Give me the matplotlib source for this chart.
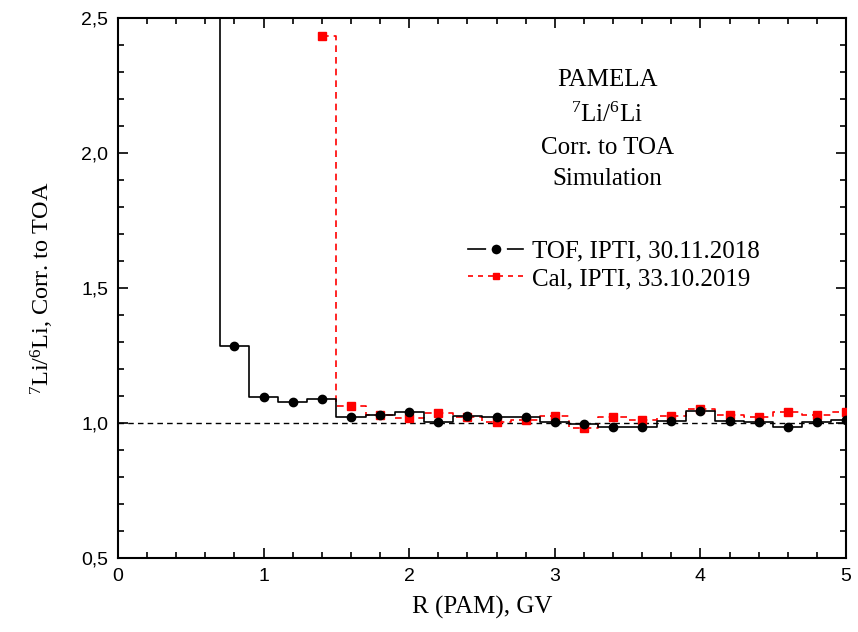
import matplotlib
matplotlib.use('Agg')
import matplotlib.pyplot as plt
from matplotlib.ticker import MultipleLocator, FuncFormatter

# fonts: serif for text, sans for tick numbers
plt.rcParams['font.family'] = 'Liberation Serif'
plt.rcParams['mathtext.fontset'] = 'custom'
plt.rcParams['mathtext.rm'] = 'Liberation Serif'
plt.rcParams['mathtext.it'] = 'Liberation Serif:italic'

# TOF, IPTI, 30.11.2018 (first bin is off scale)
r_tof = [0.6, 0.8, 1.0, 1.2, 1.4, 1.6, 1.8, 2.0, 2.2, 2.4, 2.6, 2.8, 3.0,
         3.2, 3.4, 3.6, 3.8, 4.0, 4.2, 4.4, 4.6, 4.8, 5.0]
v_tof = [3.0, 1.285, 1.097, 1.078, 1.088, 1.023, 1.031, 1.039, 1.003, 1.025,
         1.023, 1.021, 1.005, 0.996, 0.985, 0.986, 1.008, 1.045, 1.006, 1.005,
         0.984, 1.004, 1.012]

# Cal, IPTI, 33.10.2019
r_cal = [1.4, 1.6, 1.8, 2.0, 2.2, 2.4, 2.6, 2.8, 3.0, 3.2, 3.4, 3.6, 3.8,
         4.0, 4.2, 4.4, 4.6, 4.8, 5.0]
v_cal = [2.433, 1.062, 1.028, 1.018, 1.036, 1.024, 1.002, 1.012, 1.026, 0.982,
         1.022, 1.012, 1.027, 1.051, 1.029, 1.024, 1.041, 1.029, 1.041]

labels = ['TOF, IPTI, 30.11.2018', 'Cal, IPTI, 33.10.2019']
info = ['PAMELA', '$^{7}$Li/$^{6}$Li', 'Corr. to TOA', 'Simulation']

fig = plt.figure(figsize=(8.58, 6.32), dpi=100)
ax = fig.add_axes([118/858, 1-558/632, (846-118)/858, (558-18)/632])

ax.axhline(1.0, color='black', lw=1.0, ls=(0, (4, 3)), zorder=1)

ax.plot(r_tof, v_tof, drawstyle='steps-mid', color='black', lw=1.2, zorder=3)
ax.plot(r_tof, v_tof, ls='none', marker='o', ms=6, color='black', zorder=4)
ax.plot(r_cal, v_cal, drawstyle='steps-mid', color='red', lw=1.2,
        ls=(0, (4, 3)), zorder=2)
ax.plot(r_cal, v_cal, ls='none', marker='s', ms=5.5, color='red', zorder=3)

# legend handles (white ring around the dot gives the gap in the line)
h1, = ax.plot([], [], color='black', lw=1.2, marker='o', ms=11,
              mfc='black', mec='white', mew=4)
h2, = ax.plot([], [], color='red', lw=1.2, ls=(0, (3, 3)), marker='s', ms=5)
ax.legend([h1, h2], labels, loc='upper left', bbox_to_anchor=(0.464, 0.612),
          frameon=False, fontsize=18, handlelength=2.2, handletextpad=0.35,
          labelspacing=0.2, borderpad=0)

for txt, yb in zip(info, [0.874, 0.807, 0.748, 0.691]):
    ax.text(0.672, yb, txt, transform=ax.transAxes, ha='center',
            va='baseline', fontsize=18)

ax.set_xlim(0, 5)
ax.set_ylim(0.5, 2.5)
ax.xaxis.set_major_locator(MultipleLocator(1))
ax.xaxis.set_minor_locator(MultipleLocator(0.2))
ax.yaxis.set_major_locator(MultipleLocator(0.5))
ax.yaxis.set_minor_locator(MultipleLocator(0.1))
ax.yaxis.set_major_formatter(FuncFormatter(lambda v, p: f'{v:.1f}'.replace('.', ',')))
ax.xaxis.set_major_formatter(FuncFormatter(lambda v, p: f'{v:.0f}'))
ax.tick_params(which='both', direction='in', top=True, right=True, width=1.2)
ax.tick_params(which='major', length=7.5, pad=7)
ax.tick_params(which='minor', length=4.5)
for lab in ax.get_xticklabels() + ax.get_yticklabels():
    lab.set_fontfamily('Liberation Sans')
    lab.set_fontsize(14)
for s in ax.spines.values():
    s.set_linewidth(1.5)

ax.set_xlabel('R (PAM), GV', fontsize=18, labelpad=8)
ax.set_ylabel('$^{7}$Li/$^{6}$Li, Corr. to TOA', fontsize=17.5, labelpad=18)

fig.savefig('out.png', dpi=100)
